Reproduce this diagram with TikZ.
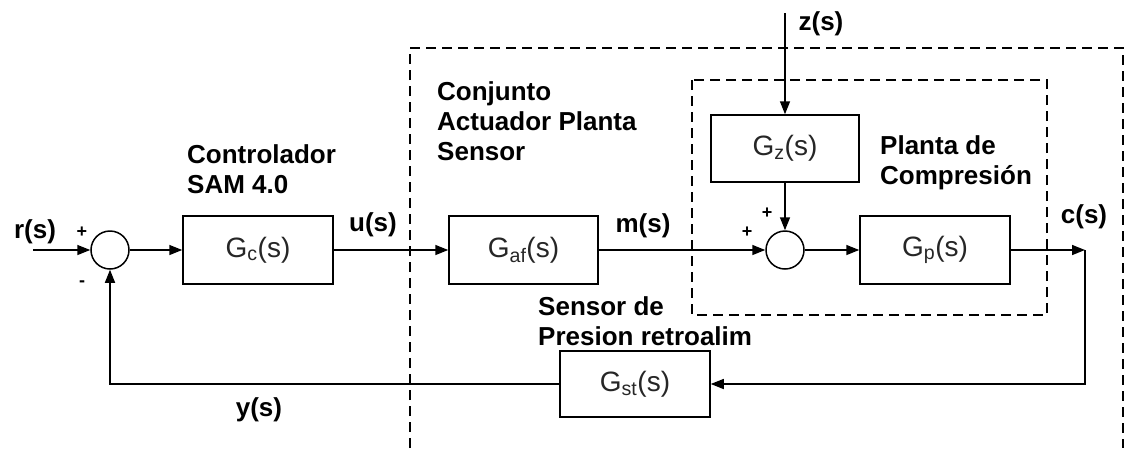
\documentclass[tikz,border=0pt]{standalone}
\usepackage{fontspec}
\setmainfont{Liberation Sans}
\usetikzlibrary{arrows.meta}
\tikzset{
  blk/.style={draw, line width=1.5pt, minimum width=150pt, minimum height=68pt, inner sep=0pt, font=\fontsize{28}{32}\selectfont, text=black!85},
  sumc/.style={draw, circle, line width=1.5pt, minimum size=38pt, inner sep=0pt},
  arr/.style={line width=1.5pt, -{Triangle[length=13pt,width=10pt]}},
  grp/.style={line width=1.5pt, dash pattern=on 10pt off 6pt},
  lbl/.style={font=\bfseries\fontsize{26}{30}\selectfont, inner sep=0pt},
  mlbl/.style={font=\bfseries\fontsize{26}{30}\selectfont, inner sep=0pt, align=left, anchor=base west},
  sgn/.style={font=\bfseries\fontsize{18}{18}\selectfont, inner sep=0pt}
}
\begin{document}
\begin{tikzpicture}[x=1pt,y=-1pt]
\useasboundingbox (0,0) rectangle (1130,448);
% group boxes
\draw[grp] (410,448) -- (410,48) -- (1123,48) -- (1123,448);
\draw[grp] (692,80) rectangle (1047,315);
% blocks
\node[blk] (gc) at (258,250) {G\textsubscript{c}(s)};
\node[blk, minimum width=149pt] (gaf) at (523.5,250) {G\textsubscript{af}(s)};
\node[blk, minimum width=148pt, minimum height=67pt] (gz) at (785,148.5) {G\textsubscript{z}(s)};
\node[blk] (gp) at (935,250) {G\textsubscript{p}(s)};
\node[blk, minimum height=66pt] (gst) at (635,384) {G\textsubscript{st}(s)};
\node[sumc] (s1) at (110,250) {};
\node[sumc] (s2) at (785,250) {};
% coordinates
\coordinate (rin) at (33,250);
\coordinate (zin) at (785,13);
\coordinate (cout) at (1085,250);
\coordinate (cdn) at (1085,384);
\coordinate (fbl) at (110,384);
% connectors
\draw[arr] (rin) -- (s1.west);
\draw[arr] (s1.east) -- (gc.west);
\draw[arr] (gc.east) -- (gaf.west);
\draw[arr] (gaf.east) -- (s2.west);
\draw[arr] (zin) -- (gz.north);
\draw[arr] (gz.south) -- (s2.north);
\draw[arr] (s2.east) -- (gp.west);
\draw[arr] (gp.east) -- (cout);
\draw[arr] (cout) -- (cdn) -- (gst.east);
\draw[arr] (gst.west) -- (fbl) -- (s1.south);
% signal labels
\node[lbl] (lr) at (35,232) {r(s)};
\node[lbl] (lu) at (373,225) {u(s)};
\node[lbl] (lm) at (643,226) {m(s)};
\node[lbl] (lc) at (1084,217) {c(s)};
\node[lbl] (lz) at (821,24) {z(s)};
\node[lbl] (ly) at (259,410) {y(s)};
\node[sgn] (p1) at (82,232) {+};
\node[sgn] (m1) at (82,284) {-};
\node[sgn] (p2) at (747,232) {+};
\node[sgn] (p3) at (767,213) {+};
% group labels (anchor = baseline of last line)
\node[mlbl] (t1) at (437,160) {Conjunto\\Actuador Planta\\Sensor};
\node[mlbl] (t2) at (187,193) {Controlador\\SAM 4.0};
\node[mlbl] (t3) at (880,184) {Planta de\\Compresión};
\node[mlbl] (t4) at (538,345) {Sensor de\\Presion retroalim};
\end{tikzpicture}
\end{document}
